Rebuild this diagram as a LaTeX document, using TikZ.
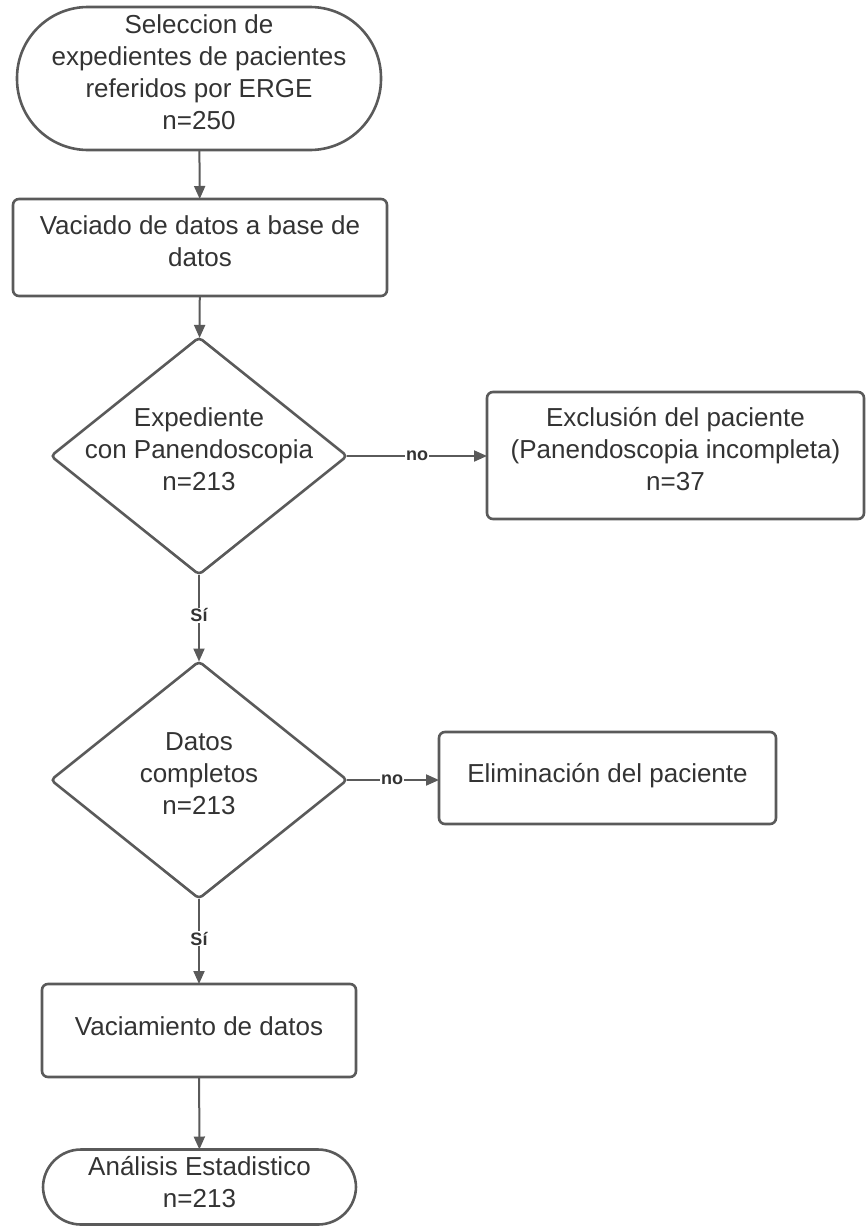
\documentclass[tikz,border=0pt]{standalone}
\usepackage{fontspec}
\setmainfont{Liberation Sans}
\usetikzlibrary{shapes.geometric,arrows.meta}
\definecolor{ln}{HTML}{5A5A5A}
\definecolor{tx}{HTML}{333333}
\newcommand{\zbox}[2][0pt]{\makebox[0pt]{\raisebox{#1}{\smash{\begin{tabular}{@{}c@{}}#2\end{tabular}}}}}
\begin{document}
\begin{tikzpicture}[x=1pt,y=-1pt,
  base/.style={draw=ln,line width=2.6pt,inner sep=0pt,outer sep=0pt,align=center,text=tx,
    font=\fontsize{26}{32}\selectfont},
  boxx/.style={base,rectangle,rounded corners=6pt},
  term/.style={base,rectangle},
  dec/.style={base,diamond,rounded corners=4pt,minimum width=296pt,minimum height=237pt},
  arr/.style={draw=ln,line width=2pt,-{Triangle[length=13pt,width=11pt]}},
  lab/.style={fill=white,inner sep=1pt,text=tx,font=\fontsize{18}{20}\selectfont\bfseries}]
\useasboundingbox (0,0) rectangle (865,1226);
\renewcommand{\arraystretch}{1.0}
\node[term,rounded corners=71pt,minimum width=364pt,minimum height=143pt] (start) at (199,78.5)
  {\zbox[-5.5pt]{Seleccion de\\expedientes de pacientes\\referidos por ERGE\\n=250}};
\node[boxx,minimum width=374pt,minimum height=97pt] (vac) at (200,247.5)
  {\zbox[-5pt]{Vaciado de datos a base de\\datos}};
\node[dec] (d1) at (199,456) {\zbox[-5.5pt]{Expediente\\con Panendoscopia\\n=213}};
\node[boxx,minimum width=377pt,minimum height=127pt] (excl) at (675.5,455.5)
  {\zbox[-6.5pt]{Exclusión del paciente\\(Panendoscopia incompleta)\\n=37}};
\node[dec] (d2) at (199,780) {\zbox[-5pt]{Datos\\completos\\n=213}};
\node[boxx,minimum width=337pt,minimum height=92pt] (elim) at (607.5,778)
  {\zbox[-8pt]{Eliminación del paciente}};
\node[boxx,minimum width=314pt,minimum height=93pt] (vcm) at (199,1030.5)
  {\zbox[-9pt]{Vaciamiento de datos}};
\node[term,rounded corners=38pt,minimum width=313pt,minimum height=75pt] (fin) at (199.5,1187)
  {\zbox[-8.5pt]{Análisis Estadistico\\n=213}};
\draw[arr] (start) -- (vac);
\draw[arr] (vac) -- (d1);
\draw[arr] (d1.east) -- node[lab,pos=0.5]{no} (excl.west |- d1.east);
\draw[arr] (d1.south) -- node[lab,pos=0.47]{Sí} (d2.north);
\draw[arr] (d2.east) -- node[lab,pos=0.49]{no} (elim.west |- d2.east);
\draw[arr] (d2.south) -- node[lab,pos=0.47]{Sí} (vcm.north);
\draw[arr] (vcm) -- (fin);
\end{tikzpicture}
\end{document}
